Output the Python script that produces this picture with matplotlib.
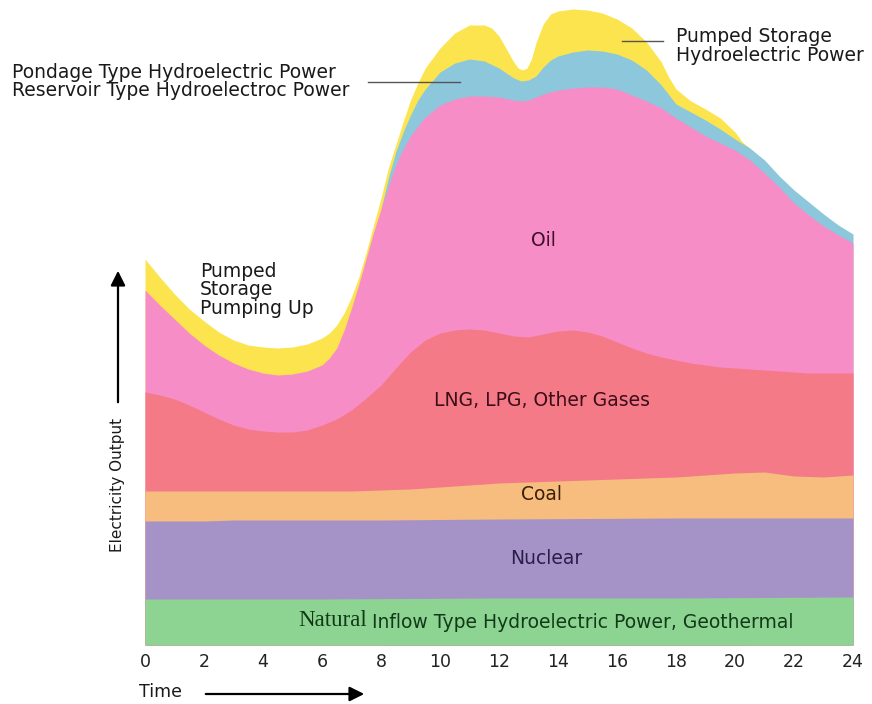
import numpy as np
import matplotlib
matplotlib.use("Agg")
import matplotlib.pyplot as plt

plt.rcParams['font.family'] = ['DejaVu Sans']

# ---------------- data (cumulative level of each layer's upper edge) ----------------
natural_x = [0, 6, 12, 18, 24]
natural_top = [46, 46, 47, 47, 48]

nuclear_x = [0, 2, 3, 8, 12, 18, 24]
nuclear_top = [124, 124, 125, 125, 126, 127, 127]

coal_x = list(range(0, 25))
coal_top = [154, 154, 154, 154, 154, 154, 154, 154, 155, 156, 158, 160, 162,
            163, 164, 165, 166, 167, 168, 170, 172, 173, 169, 168, 170]

gas_x = list(np.arange(0, 24.5, 0.5))
gas_top = [253, 250, 246, 240, 233, 226, 220, 216, 214, 213, 213, 215, 220, 226,
           235, 247, 260, 277, 293, 305, 312, 315, 316, 315, 312, 309, 308, 311,
           314, 315, 313, 309, 303, 297, 292, 288, 285, 282, 280, 278, 277, 276,
           275, 274, 273, 272, 272, 272, 272]

oil_x = [0, 0.5, 1, 1.5, 2, 2.5, 3, 3.5, 4, 4.5, 5, 5.5, 6, 6.25, 6.5, 6.75, 7, 7.25,
         7.5, 7.75, 8, 8.25, 8.5, 8.75, 9, 9.25, 9.5, 10, 10.5, 11, 11.5, 12,
         12.5, 12.75, 13, 13.25, 13.5, 14, 14.5, 15, 15.5, 16, 16.5, 17, 17.5,
         18, 18.5, 19, 19.5, 20, 20.5, 21, 21.5, 22, 22.5, 23, 23.5, 24]
oil_top = [355, 340, 326, 312, 300, 290, 282, 276, 272, 270, 271, 274, 280, 287, 297,
           315, 337, 361, 387, 413, 436, 459, 480, 496, 509, 519, 528, 540, 546,
           549, 549, 548, 545, 544, 545, 548, 551, 555, 557, 558, 558, 556, 550,
           544, 537, 527, 518, 509, 502, 495, 485, 472, 458, 442, 430, 419, 410,
           402]

hydro_x = [8, 8.25, 8.5, 8.75, 9, 9.25, 9.5, 10, 10.5, 11, 11.5, 12, 12.25, 12.5,
           12.75, 13, 13.25, 13.5, 13.75, 14, 14.5, 15, 15.5, 16, 16.5, 17, 17.5,
           18, 18.5, 19, 19.5, 20, 20.5, 21, 21.5, 22, 22.5, 23, 23.5, 24]
hydro_top = [436, 467, 493, 513, 530, 545, 556, 573, 582, 586, 584, 577, 572, 567,
             564, 565, 569, 578, 585, 589, 593, 595, 594, 591, 585, 575, 560,
             541, 533, 525, 516, 506, 497, 485, 469, 455, 443, 431, 420, 411]

pumped_x = [0, 0.5, 1, 1.5, 2, 2.5, 3, 3.5, 4, 4.5, 5, 5.5, 6, 6.25, 6.5, 6.75, 7, 7.25,
            7.5, 7.75, 8, 8.25, 8.5, 8.75, 9, 9.25, 9.5, 10, 10.5, 11, 11.5, 11.75, 12,
            12.25, 12.5, 12.65, 12.8, 12.95, 13.1, 13.25, 13.5, 13.75, 14, 14.5, 15,
            15.5, 16, 16.5, 17, 17.5, 17.75, 18, 18.5, 19, 19.5, 20, 20.25, 20.5]
pumped_top = [386, 368, 351, 336, 324, 313, 305, 300, 298, 297, 298, 301, 307, 312, 320,
              332, 348, 368, 393, 420, 447, 477, 500, 523, 545, 562, 577, 597, 612,
              620, 620, 617, 609, 596, 583, 577, 575, 577, 586, 602, 621, 631, 634, 636,
              635, 632, 626, 617, 603, 583, 568, 556, 544, 536, 527, 513, 503, 497]

hour_ticks = list(range(0, 25, 2))

layers = [
    (pumped_x, pumped_top, '#FCE44E'),
    (hydro_x, hydro_top, '#8DC7DC'),
    (oil_x, oil_top, '#F78DC6'),
    (gas_x, gas_top, '#F47A88'),
    (coal_x, coal_top, '#F6BD7F'),
    (nuclear_x, nuclear_top, '#A593C8'),
    (natural_x, natural_top, '#8DD493'),
]

W, H = 872, 704
fig = plt.figure(figsize=(W / 100, H / 100), dpi=100)
fig.patch.set_facecolor('white')
ax = fig.add_axes([145 / W, 59 / H, 708 / W, 645 / H])

for xs, ys, col in layers:
    ax.fill_between(xs, 0, ys, color=col, linewidth=0)

ax.set_xlim(0, 24)
ax.set_ylim(0, 645)
for s in ax.spines.values():
    s.set_visible(False)
ax.set_yticks([])
ax.set_xticks(hour_ticks)
ax.set_xticklabels([str(h) for h in hour_ticks])
ax.tick_params(axis='x', length=0, pad=6, labelsize=12.5, labelcolor='#222222')
ax.set_facecolor('none')

fs = 13.5
# in-area labels
ax.text(13.5, 645 - 241, 'Oil', ha='center', va='center', fontsize=fs, color='#3b1028')
ax.text(13.45, 645 - 401, 'LNG, LPG, Other Gases', ha='center', va='center', fontsize=fs, color='#3b0e18')
ax.text(13.45, 645 - 494, 'Coal', ha='center', va='center', fontsize=fs, color='#3a2008')
ax.text(13.6, 645 - 559, 'Nuclear', ha='center', va='center', fontsize=fs, color='#2b1d4a')
ax.text((298 - 145) / 29.5, 645 - 621, 'Natural', ha='left', va='center', fontsize=16.5,
        family=['Liberation Serif', 'DejaVu Serif'], color='#123a18')
ax.text((372 - 145) / 29.5, 645 - 622, 'Inflow Type Hydroelectric Power, Geothermal',
        ha='left', va='center', fontsize=fs, color='#123a18')

# outside labels (figure pixels)
def ftext(px, py, s, **kw):
    fig.text(px / W, 1 - py / H, s, **kw)

ftext(200, 290, 'Pumped\nStorage\nPumping Up', ha='left', va='center', fontsize=fs,
      linespacing=0.97, color='#1a1a1a')
ftext(12, 72, 'Pondage Type Hydroelectric Power', ha='left', va='center', fontsize=fs, color='#1a1a1a')
ftext(12, 91, 'Reservoir Type Hydroelectroc Power', ha='left', va='center', fontsize=fs, color='#1a1a1a')
ftext(676, 46, 'Pumped Storage\nHydroelectric Power', ha='left', va='center', fontsize=fs,
      linespacing=0.97, color='#1a1a1a')
ftext(117, 485, 'Electricity Output', ha='center', va='center', rotation=90, fontsize=11,
      color='#1a1a1a')
ftext(160, 692, 'Time', ha='center', va='center', fontsize=12.5, color='#1a1a1a')

# leader lines
fig.add_artist(plt.Line2D([368 / W, 460 / W], [1 - 82 / H, 1 - 82 / H], color='#555555', lw=1))
fig.add_artist(plt.Line2D([622 / W, 663 / W], [1 - 41 / H, 1 - 41 / H], color='#555555', lw=1))

# arrows
ax.annotate('', xy=(118, H - 268), xytext=(118, H - 405), xycoords='figure pixels',
            textcoords='figure pixels',
            arrowprops=dict(arrowstyle='-|>', color='black', lw=1.6, mutation_scale=22))
ax.annotate('', xy=(367, H - 694), xytext=(203, H - 694), xycoords='figure pixels',
            textcoords='figure pixels',
            arrowprops=dict(arrowstyle='-|>', color='black', lw=1.6, mutation_scale=22))

fig.savefig('out.png', dpi=100)
